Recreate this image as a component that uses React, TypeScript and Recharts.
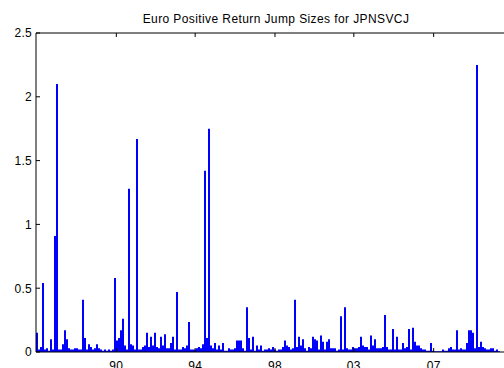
import React from 'react';
import { ComposedChart, Bar, XAxis, YAxis } from 'recharts';

// Jump size per sampling slot (slot width = 1/240 of the time axis).
const jumpSizes: (number | null)[] = [
  0.15, 0.02, 0.04, 0.54, 0.02, 0.03, 0.01, 0.10, 0.02, 0.91,
  2.10, 0.02, 0.02, 0.06, 0.17, 0.10, 0.03, 0.02, 0.02, 0.03,
  0.03, 0.02, 0.02, 0.41, 0.11, 0.02, 0.06, 0.04, 0.02, 0.03,
  0.06, 0.03, 0.02, 0.01, 0.02, 0.01, 0.02, 0.01, 0.02, 0.58,
  0.09, 0.11, 0.17, 0.26, 0.05, 0.02, 1.28, 0.06, 0.05, 0.02,
  1.67, 0.02, 0.02, 0.04, 0.05, 0.15, 0.04, 0.12, 0.05, 0.15,
  0.04, 0.03, 0.12, 0.05, 0.14, 0.03, 0.03, 0.07, 0.12, 0.02,
  0.47, 0.02, 0.02, 0.04, 0.03, 0.05, 0.235, 0.02, 0.02, 0.02,
  0.03, 0.04, 0.03, 0.06, 1.42, 0.11, 1.75, 0.05, 0.03, 0.07,
  0.02, 0.05, 0.02, 0.07, 0.01, 0.01, 0.03, 0.02, 0.02, 0.03,
  0.09, 0.09, 0.09, 0.03, 0.01, 0.35, 0.11, 0.02, 0.12, 0.01,
  0.05, 0.02, 0.05, 0.01, 0.02, 0.02, 0.03, 0.02, 0.04, 0.02,
  0.01, 0.02, 0.02, 0.04, 0.09, 0.05, 0.04, 0.02, 0.03, 0.41,
  0.04, 0.12, 0.05, 0.10, 0.03, 0.01, 0.04, 0.03, 0.12, 0.10,
  0.09, 0.02, 0.13, 0.08, 0.02, 0.08, 0.10, 0.03, 0.03, 0.03,
  0.01, 0.02, 0.28, 0.02, 0.35, 0.03, 0.02, 0.02, 0.04, 0.03,
  0.03, 0.04, 0.12, 0.05, 0.04, 0.04, 0.02, 0.13, 0.05, 0.10,
  0.03, 0.03, 0.03, 0.04, 0.29, 0.04, 0.02, 0.02, 0.18, 0.02,
  0.12, 0.02, 0.02, 0.07, 0.03, 0.04, 0.18, 0.02, 0.19, 0.08,
  0.05, 0.05, 0.03, 0.02, 0.02, 0.01, 0.01, 0.07, 0.01, 0.005,
  0.005, 0.005, 0.005, 0.02, 0.01, 0.01, 0.03, 0.04, 0.02, 0.02,
  0.17, 0.02, 0.03, 0.02, 0.02, 0.07, 0.17, 0.17, 0.15, 0.03,
  2.25, 0.04, 0.08, 0.04, 0.03, 0.02, 0.02, 0.03, 0.03, 0.01,
  0.02, 0.005,
];

const slotCount = 240;
const yearTickSlots = [40, 79.25, 119, 158.25, 198];
const yearTickLabels = ['90', '94', '98', '03', '07'];
const sizeTicks = [0, 0.5, 1, 1.5, 2, 2.5];

const title = 'Euro Positive Return Jump Sizes for JPNSVCJ';

const rows = Array.from({ length: slotCount }, (_, i) => ({
  slot: i,
  size: i < jumpSizes.length ? jumpSizes[i] : null,
}));

const font = "'Liberation Sans', Arial, Helvetica, sans-serif";
const labelStyle = { fill: '#000', fontSize: 12, fontFamily: font, letterSpacing: 0.3 };
const TICK_LEN = 4;

// Bottom axis: inward tick mark plus year label below the frame.
const YearTick = (props: any) => {
  const { x, y, payload } = props;
  const label = yearTickLabels[yearTickSlots.indexOf(payload.value)];
  return (
    <g>
      <line x1={x} y1={y} x2={x} y2={y - TICK_LEN} stroke="#000" />
      <text x={x} y={y + 17.5} textAnchor="middle" style={labelStyle}>
        {label}
      </text>
    </g>
  );
};

// Top frame: inward tick marks only.
const FrameTick = (props: any) => {
  const { x, y } = props;
  return <line x1={x} y1={y} x2={x} y2={y + TICK_LEN} stroke="#000" />;
};

// Left axis: inward tick mark plus value label.
const SizeTick = (props: any) => {
  const { x, y, payload } = props;
  return (
    <g>
      <line x1={x} y1={y} x2={x + TICK_LEN} y2={y} stroke="#000" />
      <text x={x - 4} y={y + 4.3} textAnchor="end" style={labelStyle}>
        {String(payload.value)}
      </text>
    </g>
  );
};

export default function App() {
  return (
    <div
      style={{
        position: 'absolute',
        left: 0,
        top: 0,
        width: 504,
        height: 368,
        overflow: 'hidden',
        background: '#fff',
      }}
    >
      <ComposedChart
        width={520}
        height={368}
        data={rows}
        margin={{ top: 32, right: 4, bottom: 0, left: 0 }}
        barCategoryGap={0}
        barGap={0}
      >
        <text
          x={276}
          y={23}
          textAnchor="middle"
          style={{ fontFamily: font, fontSize: 12, letterSpacing: 0.4, fill: '#000' }}
        >
          {title}
        </text>
        <XAxis
          xAxisId="years"
          type="number"
          orientation="bottom"
          domain={[0, slotCount]}
          allowDataOverflow
          ticks={yearTickSlots}
          interval={0}
          height={16}
          tickSize={0}
          tickMargin={0}
          axisLine={{ stroke: '#000' }}
          tickLine={false}
          tick={<YearTick />}
        />
        <XAxis xAxisId="slots" dataKey="slot" type="category" hide height={0} />
        <XAxis
          xAxisId="frame"
          type="number"
          orientation="top"
          domain={[0, slotCount]}
          allowDataOverflow
          ticks={yearTickSlots}
          interval={0}
          height={1}
          tickSize={0}
          tickMargin={0}
          axisLine={{ stroke: '#000' }}
          tickLine={false}
          tick={<FrameTick />}
        />
        <YAxis
          yAxisId="size"
          type="number"
          domain={[0, 2.5]}
          allowDataOverflow
          ticks={sizeTicks}
          interval={0}
          width={36}
          tickSize={0}
          tickMargin={0}
          axisLine={{ stroke: '#000' }}
          tickLine={false}
          tick={<SizeTick />}
        />
        <Bar
          xAxisId="slots"
          yAxisId="size"
          dataKey="size"
          fill="#0000ff"
          isAnimationActive={false}
        />
      </ComposedChart>
    </div>
  );
}
